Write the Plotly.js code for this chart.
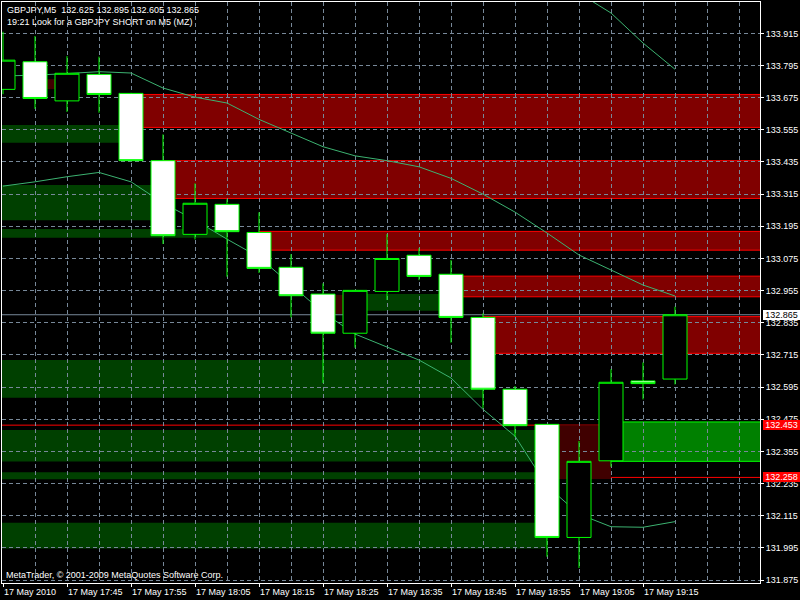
<!DOCTYPE html>
<html>
<head>
<meta charset="utf-8">
<script src="https://cdn.plot.ly/plotly-3.0.1.min.js"></script>
<style>
  html, body { margin: 0; padding: 0; background: #000; }
  #chart { width: 800px; height: 600px; }
</style>
</head>
<body>
<div id="chart"></div>
<script>
// ---- bar data (GBPJPY M5, 17 May 2010) ----
const barTimes = ['17:35','17:40','17:45','17:50','17:55','18:00','18:05','18:10','18:15','18:20','18:25',
                  '18:30','18:35','18:40','18:45','18:50','18:55','19:00','19:05','19:10','19:15','19:20'];
const opens  = [133.706,133.809,133.663,133.762,133.691,133.440,133.165,133.277,133.172,133.042,132.942,
                132.796,132.952,133.087,133.016,132.855,132.587,132.456,132.034,132.320,132.618,132.625];
const highs  = [133.921,133.905,133.830,133.828,133.693,133.538,133.355,133.296,133.247,133.091,132.982,
                132.956,133.166,133.113,133.069,132.870,132.599,132.456,132.394,132.662,132.687,132.895];
const lows   = [133.688,133.633,133.622,133.619,133.438,133.129,133.146,133.007,133.021,132.855,132.610,
                132.742,132.920,132.994,132.761,132.516,132.410,131.962,131.920,132.298,132.549,132.605];
const closes = [133.815,133.672,133.766,133.687,133.440,133.160,133.281,133.175,133.038,132.936,132.796,
                132.956,133.075,133.008,132.855,132.587,132.451,132.034,132.318,132.613,132.608,132.865];

// ---- moving averages ----
const maFast = [133.345,133.361,133.380,133.396,133.361,133.282,133.218,133.147,133.080,132.978,132.874,
                132.793,132.744,132.696,132.629,132.512,132.412,132.226,132.121,132.074,132.072,132.093];
const maSlow = [133.756,133.759,133.765,133.772,133.767,133.711,133.677,133.655,133.594,133.542,133.492,
                133.458,133.440,133.417,133.374,133.315,133.248,133.170,133.088,133.032,132.976,132.935];
const maLong = [null,null,null,null,null,null,null,null,null,null,null,
                null,null,null,null,null,null,null,134.065,133.991,133.879,133.781];

// ---- zones ----
const resStart = [4, 5, 8, 14, 15];
const resTop   = [133.687, 133.440, 133.176, 133.009, 132.858];
const resBot   = [133.564, 133.299, 133.106, 132.932, 132.721];

const supStart = [-1, -1, -1, 11, -1, -1, -1, -1];
const supEnd   = [4, 5, 7, 14, 15, 17, 17, 17];
const supTop   = [133.573, 133.349, 133.185, 132.942, 132.696, 132.435, 132.277, 132.089];
const supBot   = [133.507, 133.218, 133.152, 132.880, 132.555, 132.317, 132.251, 131.993];

const brkStart = [1, 10, 17];
const brkEnd   = [2, 11, 19];
const brkTop   = [133.744, 132.939, 132.453];
const brkBot   = [133.707, 132.868, 132.252];

const actStart = [19];
const actTop   = [132.465];
const actBot   = [132.318];

const redLevels = [132.453, 132.258];
const bidPrice  = 132.865;

// ---- axis labels ----
const tickIdx    = [0, 2, 4, 6, 8, 10, 12, 14, 16, 18, 20];
const tickLabels = ['17 May 2010','17 May 17:45','17 May 17:55','17 May 18:05','17 May 18:15','17 May 18:25',
                    '17 May 18:35','17 May 18:45','17 May 18:55','17 May 19:05','17 May 19:15'];
const symbol = 'GBPJPY,M5';
const comment = '19:21 Look for a GBPJPY SHORT on M5 (MZ)';
const copyright = 'MetaTrader, \u00a9 2001-2009 MetaQuotes Software Corp.';

const idx = barTimes.map((t, i) => i);
const xRange = [-0.03125, 23.656];
const yRange = [131.864, 134.032];
const FONT = 'Liberation Sans, Arial, sans-serif';
const GRID = '#778899';

const traces = [
  {type:'scatter', mode:'lines', x: idx, y: maFast, xaxis:'x', yaxis:'y',
   line:{color:'#3cb371', width:1}, hoverinfo:'skip'},
  {type:'scatter', mode:'lines', x: idx, y: maSlow, xaxis:'x', yaxis:'y',
   line:{color:'#3cb371', width:1}, hoverinfo:'skip'},
  {type:'scatter', mode:'lines', x: idx, y: maLong, xaxis:'x', yaxis:'y',
   line:{color:'#3cb371', width:1}, hoverinfo:'skip', connectgaps:false},
  {type:'candlestick', x: idx, open: opens, high: highs, low: lows, close: closes,
   xaxis:'x2', yaxis:'y2', whiskerwidth:0, hoverinfo:'none',
   increasing:{line:{color:'#00ff00', width:1}, fillcolor:'#000000'},
   decreasing:{line:{color:'#00ff00', width:1}, fillcolor:'#ffffff'}}
];

const shapes = [];
brkStart.forEach((s, i) => shapes.push({type:'rect', xref:'x', yref:'y', layer:'below',
  x0: s, x1: brkEnd[i], y0: brkBot[i], y1: brkTop[i], fillcolor:'#400000', line:{width:0}}));
supStart.forEach((s, i) => shapes.push({type:'rect', xref:'x', yref:'y', layer:'below',
  x0: s, x1: supEnd[i], y0: supBot[i], y1: supTop[i], fillcolor:'#004000', line:{width:0}}));
resStart.forEach((s, i) => shapes.push({type:'rect', xref:'x', yref:'y', layer:'below',
  x0: s, x1: 40, y0: resBot[i], y1: resTop[i], fillcolor:'#800000', line:{color:'#ff0000', width:1}}));
actStart.forEach((s, i) => shapes.push({type:'rect', xref:'x', yref:'y', layer:'below',
  x0: s, x1: 40, y0: actBot[i], y1: actTop[i], fillcolor:'#008000', line:{color:'#00ff00', width:1}}));
redLevels.forEach(v => shapes.push({type:'line', xref:'paper', yref:'y', layer:'between',
  x0: 0, x1: 1, y0: v, y1: v, line:{color:'#ff0000', width:1}}));
shapes.push({type:'line', xref:'paper', yref:'y', layer:'between',
  x0: 0, x1: 1, y0: bidPrice, y1: bidPrice, line:{color:GRID, width:1}});

const last = closes.length - 1;
const header = symbol + '\u00a0\u00a0' + [opens[last], highs[last], lows[last], closes[last]].map(v => v.toFixed(3)).join(' ');

const annotations = [
  {xref:'paper', yref:'paper', x:0.0062, y:0.9854, xanchor:'left', yanchor:'middle', showarrow:false,
   text: header, font:{family:FONT, size:9, color:'#ffffff'}, borderpad:0, borderwidth:0},
  {xref:'paper', yref:'paper', x:0.0062, y:0.9663, xanchor:'left', yanchor:'middle', showarrow:false,
   text: comment, font:{family:FONT, size:9, color:'#ffffff'}, borderpad:0, borderwidth:0},
  {xref:'paper', yref:'paper', x:0.0053, y:0.0141, xanchor:'left', yanchor:'middle', showarrow:false,
   text: copyright, font:{family:FONT, size:9, color:'#ffffff'}, borderpad:0, borderwidth:0},
  {xref:'paper', yref:'y', x:1, xshift:3, y: bidPrice, xanchor:'left', yanchor:'middle', showarrow:false,
   text: bidPrice.toFixed(3), bgcolor:'#ffffff', width:37, height:10, borderpad:0, borderwidth:0,
   font:{family:FONT, size:9, color:'#000000'}}
].concat(redLevels.map(v => ({xref:'paper', yref:'y', x:1, xshift:3, y: v, xanchor:'left', yanchor:'middle',
   showarrow:false, text: v.toFixed(3), bgcolor:'#ff0000', width:37, height:10, borderpad:0, borderwidth:0,
   font:{family:FONT, size:9, color:'#ffffff'}})));

const layout = {
  width: 800, height: 600,
  paper_bgcolor: '#000000', plot_bgcolor: '#000000',
  margin: {l: 2, r: 40, t: 2, b: 17},
  showlegend: false,
  boxgap: 0.25,
  boxgroupgap: 0,
  hovermode: false,
  font: {family: FONT, size: 9, color: '#ffffff'},
  xaxis: {
    range: xRange, tickmode: 'array', tickvals: tickIdx, ticktext: tickLabels,
    ticks: 'outside', ticklen: 3, tickcolor: '#ffffff', ticklabelposition: 'outside right',
    tickfont: {family: FONT, size: 9, color: '#ffffff'},
    showgrid: true, gridcolor: GRID, gridwidth: 1, griddash: '4px,3px',
    minor: {tickmode: 'linear', tick0: 0, dtick: 1, showgrid: true, gridcolor: GRID, gridwidth: 1, griddash: '4px,3px', ticks: ''},
    showline: true, linecolor: '#ffffff', linewidth: 1, mirror: true, zeroline: false,
    fixedrange: true, rangeslider: {visible: false}
  },
  yaxis: {
    side: 'right', range: yRange, tickmode: 'linear', tick0: 131.875, dtick: 0.12, tickformat: '.3f',
    ticks: 'outside', ticklen: 3, tickcolor: '#ffffff',
    tickfont: {family: FONT, size: 9, color: '#ffffff'},
    showgrid: true, gridcolor: GRID, gridwidth: 1, griddash: '4px,3px',
    showline: true, linecolor: '#ffffff', linewidth: 1, mirror: true, zeroline: false, fixedrange: true
  },
  xaxis2: {overlaying: 'x', anchor: 'y2', range: xRange, visible: false, showgrid: false, fixedrange: true, rangeslider: {visible: false}},
  yaxis2: {overlaying: 'y', anchor: 'x2', range: yRange, visible: false, showgrid: false, fixedrange: true},
  shapes: shapes,
  annotations: annotations
};

Plotly.newPlot('chart', traces, layout, {displayModeBar: false, staticPlot: true});
</script>
</body>
</html>
